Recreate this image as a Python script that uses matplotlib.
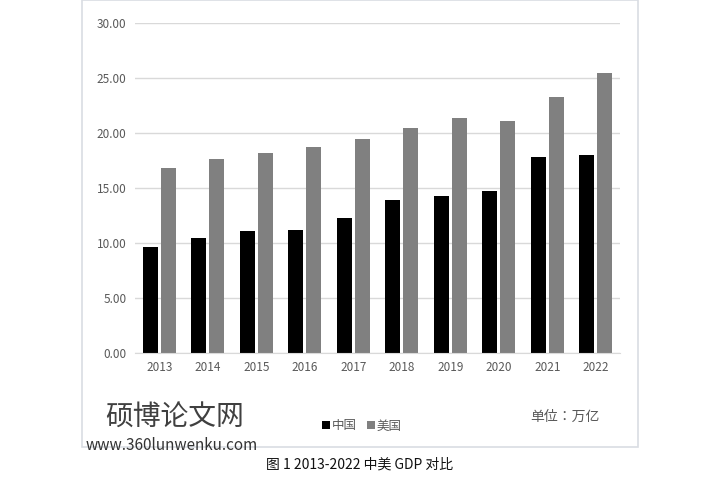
import matplotlib
matplotlib.use("Agg")
import matplotlib.pyplot as plt
from matplotlib.patches import Rectangle
import numpy as np

years = ["2013","2014","2015","2016","2017","2018","2019","2020","2021","2022"]
china = [9.6, 10.5, 11.1, 11.2, 12.3, 13.9, 14.3, 14.7, 17.8, 18.0]
usa = [16.8, 17.6, 18.2, 18.7, 19.5, 20.5, 21.4, 21.1, 23.3, 25.5]
yticks = [0, 5, 10, 15, 20, 25, 30]

plt.rcParams["font.family"] = "sans-serif"
plt.rcParams["font.sans-serif"] = ["Noto Sans CJK SC", "Noto Sans CJK JP", "Noto Sans CJK TC", "DejaVu Sans"]
W, H = 720, 483
fig = plt.figure(figsize=(W/100, H/100), dpi=100)
fig.patches.append(Rectangle((82/W, 1-447/H), 556/W, 447/H, transform=fig.transFigure,
                             fill=False, edgecolor="#d9dde3", lw=1.2))
ax = fig.add_axes([135/W, 1-353/H, 485/W, 330/H])
x = np.arange(len(years))
w = 0.31
ax.bar(x - 0.19, china, w, color="#000000", label="中国")
ax.bar(x + 0.19, usa, w, color="#808080", label="美国")
ax.set_xlim(-0.5, len(years)-0.5)
ax.set_ylim(0, 30)
ax.set_yticks(yticks)
ax.set_yticklabels([f"{v:.2f}" for v in yticks], fontsize=8.5, color="#595959")
ax.set_xticks(x)
ax.set_xticklabels(years, fontsize=8.5, color="#595959")
ax.tick_params(length=0, pad=6)
ax.yaxis.grid(True, color="#d9d9d9", lw=1)
ax.set_axisbelow(True)
for s in ["top", "right", "left"]:
    ax.spines[s].set_visible(False)
ax.spines["bottom"].set_color("#d9d9d9")
fig.legend(loc="center", bbox_to_anchor=(362/W, 1-426/H), ncol=2, frameon=False,
           fontsize=9, handlelength=0.6, handleheight=0.6, columnspacing=0.8,
           handletextpad=0.2, labelcolor="#595959")
fig.text(565/W, 1-417/H, "单位：万亿", fontsize=10, color="#595959", ha="center", va="center")
fig.text(175/W, 1-418/H, "硕博论文网", fontsize=20, color="#404040", ha="center", va="center")
fig.text(172/W, 1-446/H, "www.360lunwenku.com", fontsize=11, color="#333333", ha="center", va="center")
fig.text(360/W, 1-465/H, "图 1 2013-2022 中美 GDP 对比", fontsize=10, color="#111111", ha="center", va="center")
fig.savefig("out.png", dpi=100)
